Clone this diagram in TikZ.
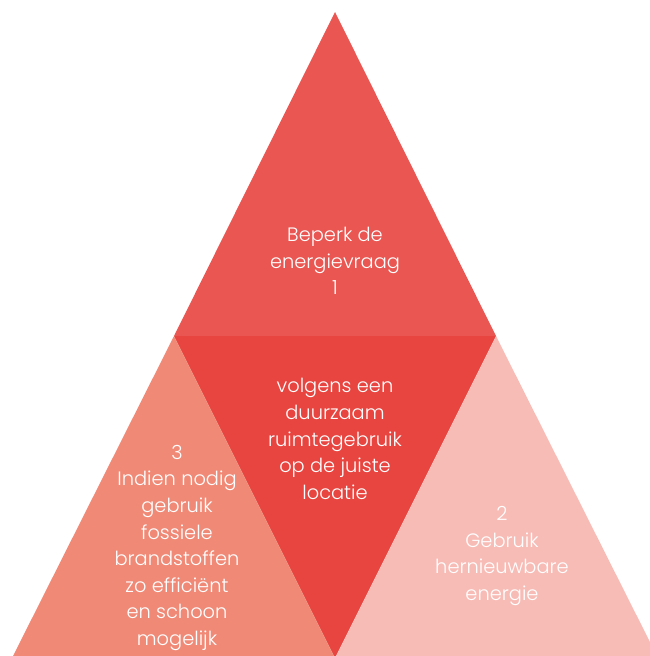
\documentclass[tikz,border=0pt]{standalone}
\usepackage{fontspec}
\setmainfont{Poppins Light}
\definecolor{topc}{HTML}{EA5651}
\definecolor{midc}{HTML}{E84540}
\definecolor{leftc}{HTML}{F08A77}
\definecolor{rightc}{HTML}{F8BCB6}
\begin{document}
\begin{tikzpicture}[x=1pt,y=-1pt,
  lbl/.style={text=white,align=center,font=\fontsize{19.4}{26.6}\selectfont,inner sep=0pt}]
\useasboundingbox (0,0) rectangle (650,656);
\clip (0,0) rectangle (650,656);
\coordinate (A) at (335,12);
\coordinate (L) at (174,336);
\coordinate (R) at (496,336);
\coordinate (BL) at (13,656);
\coordinate (BM) at (335,658);
\coordinate (BR) at (657,656);
\fill[topc] (A) -- (R) -- (L) -- cycle;
\fill[midc] (L) -- (R) -- (BM) -- cycle;
\fill[leftc] (L) -- (BM) -- (BL) -- cycle;
\fill[rightc] (R) -- (BR) -- (BM) -- cycle;
\node[lbl] (t1) at (335,261) {Beperk de\\energievraag\\1};
\node[lbl] (t0) at (335,439) {volgens een\\duurzaam\\ruimtegebruik\\op de juiste\\locatie};
\node[lbl] (t3) at (177,548) {3\\Indien nodig\\gebruik\\fossiele\\brandstoffen\\zo efficiënt\\en schoon\\mogelijk};
\node[lbl] (t2) at (502,556) {2\\Gebruik\\hernieuwbare\\energie};
\end{tikzpicture}
\end{document}
